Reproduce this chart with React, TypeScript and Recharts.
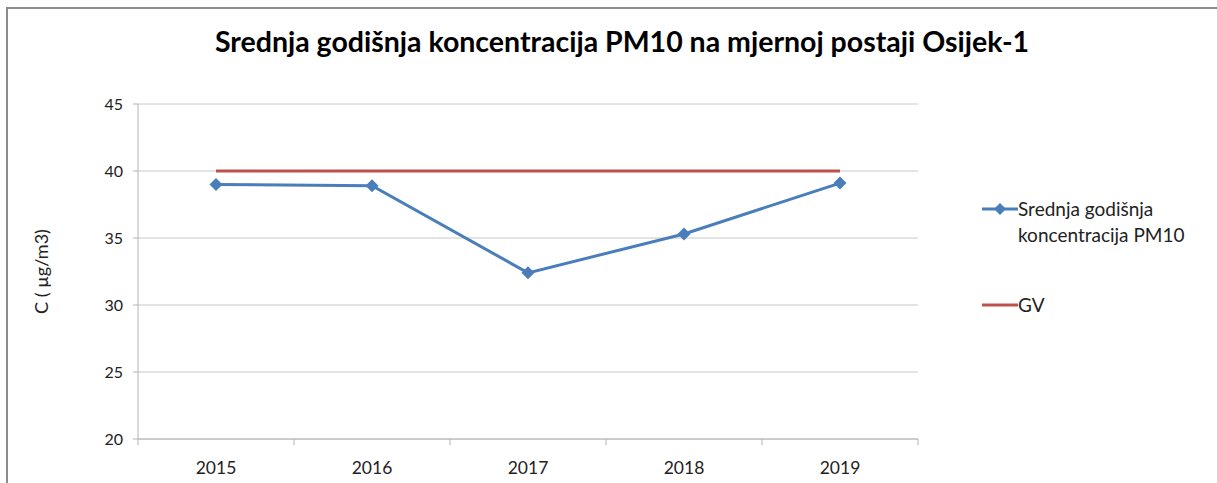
import { LineChart, Line, XAxis, YAxis, CartesianGrid } from 'recharts'

const years = ['2015', '2016', '2017', '2018', '2019']
const pm10 = [39.0, 38.9, 32.4, 35.3, 39.1]
const gv = [40, 40, 40, 40, 40]
const yTicks = [20, 25, 30, 35, 40, 45]

const data = years.map((y, i) => ({ year: y, pm10: pm10[i], gv: gv[i] }))

const FONT = 'Lato, "Open Sans", sans-serif'
const BLUE = '#4a7ebb'
const RED = '#c0504d'
const AXIS = '#b4b4b4'
const X_TICK_SIZE = 6
const X_TICK_MARGIN = 17

function Diamond(props: any) {
  const { cx, cy } = props
  if (cx == null || cy == null) return null
  const r = 6.5
  return <path d={`M${cx},${cy - r}L${cx + r},${cy}L${cx},${cy + r}L${cx - r},${cy}Z`} fill={BLUE} />
}

// category label with tick marks on the band edges (Excel style)
function YearTick(props: any) {
  const { x, y, payload, index } = props
  const half = payload.offset ?? 0
  const axisY = y - X_TICK_SIZE - X_TICK_MARGIN
  const last = index === years.length - 1
  return (
    <g>
      <line x1={x - half} x2={x - half} y1={axisY} y2={axisY + X_TICK_SIZE} stroke={AXIS} />
      {last && <line x1={x + half} x2={x + half} y1={axisY} y2={axisY + X_TICK_SIZE} stroke={AXIS} />}
      <text x={x} y={y} dy="0.71em" textAnchor="middle" fontSize={17.5} fontFamily={FONT} fill="#222">
        {payload.value}
      </text>
    </g>
  )
}

function LegendBox() {
  return (
    <div style={{ fontFamily: FONT, fontSize: 19, color: '#222', lineHeight: '26px' }}>
      <div style={{ display: 'flex', alignItems: 'flex-start' }}>
        <svg width={36} height={26} style={{ flex: 'none' }}>
          <line x1={0} y1={13} x2={36} y2={13} stroke={BLUE} strokeWidth={3} />
          <path d="M18,7L24,13L18,19L12,13Z" fill={BLUE} />
        </svg>
        <div>Srednja godišnja<br />koncentracija PM10</div>
      </div>
      <div style={{ display: 'flex', alignItems: 'center', marginTop: 44 }}>
        <svg width={36} height={26} style={{ flex: 'none' }}>
          <line x1={0} y1={13} x2={36} y2={13} stroke={RED} strokeWidth={3} />
        </svg>
        <div>GV</div>
      </div>
    </div>
  )
}

export default function App() {
  return (
    <div style={{ position: 'relative', width: 1217, height: 483, background: '#fff', overflow: 'hidden' }}>
      <style>{'body{margin:0}'}</style>
      <div
        style={{
          position: 'absolute',
          left: 6,
          top: 7,
          width: 1300,
          height: 600,
          borderTop: '2px solid #8c8c8c',
          borderLeft: '2px solid #8c8c8c',
        }}
      />
      <div
        style={{
          position: 'absolute',
          left: 0,
          top: 24,
          width: 1244,
          textAlign: 'center',
          fontFamily: FONT,
          fontWeight: 700,
          fontSize: 28.5,
          color: '#000',
        }}
      >
        Srednja godišnja koncentracija PM10 na mjernoj postaji Osijek-1
      </div>
      <div style={{ position: 'absolute', left: 0, top: 0 }}>
        <LineChart width={1217} height={483} data={data} margin={{ top: 104, right: 299, left: 0, bottom: 0 }}>
          <CartesianGrid vertical={false} stroke="#c8c8c8" />
          <XAxis
            dataKey="year"
            scale="band"
            height={44}
            axisLine={{ stroke: AXIS }}
            tickLine={false}
            tickSize={X_TICK_SIZE}
            tickMargin={X_TICK_MARGIN}
            tick={<YearTick />}
          />
          <YAxis
            domain={[20, 45]}
            ticks={yTicks}
            width={138}
            axisLine={{ stroke: AXIS }}
            tickLine={{ stroke: AXIS }}
            tickSize={5}
            tickMargin={10}
            tick={{ fontSize: 16, fill: '#222', fontFamily: FONT }}
            label={({ viewBox }: any) => (
              <text
                x={viewBox.x + 41}
                y={viewBox.y + viewBox.height / 2}
                transform={`rotate(-90 ${viewBox.x + 41} ${viewBox.y + viewBox.height / 2})`}
                textAnchor="middle"
                dominantBaseline="central"
                fontSize={18}
                fontFamily={FONT}
                fill="#222"
              >
                C ( µg/m3)
              </text>
            )}
          />
          <Line
            dataKey="gv"
            stroke={RED}
            strokeWidth={3}
            dot={false}
            activeDot={false}
            isAnimationActive={false}
          />
          <Line
            dataKey="pm10"
            stroke={BLUE}
            strokeWidth={3}
            dot={<Diamond />}
            activeDot={false}
            isAnimationActive={false}
          />
        </LineChart>
      </div>
      <div style={{ position: 'absolute', left: 982, top: 196 }}>
        <LegendBox />
      </div>
    </div>
  )
}
